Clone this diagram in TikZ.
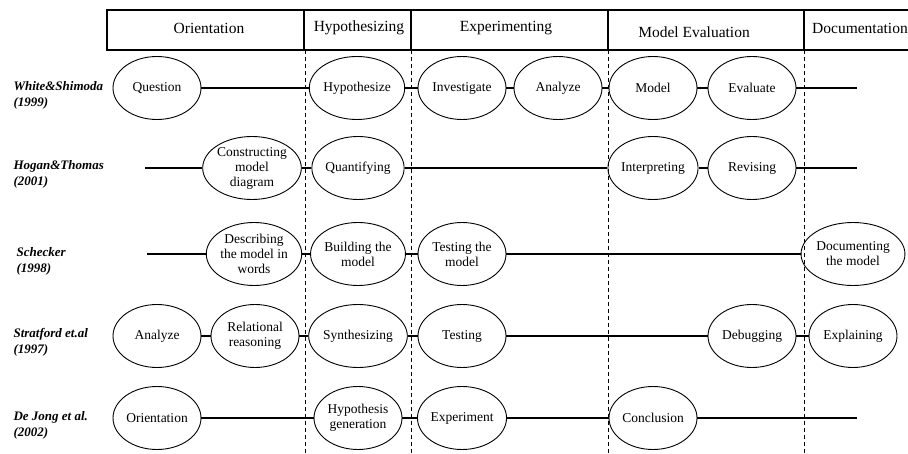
\documentclass[tikz,border=0pt]{standalone}
\usepackage{fontspec}
\setmainfont{Liberation Serif}
\usetikzlibrary{shapes,positioning}

\begin{document}
\begin{tikzpicture}[x=1pt,y=-1pt,
	oval/.style={ellipse,draw,line width=0.9pt,minimum width=88pt,minimum height=63pt,inner sep=0pt,align=center,font=\fontsize{13.5}{15}\selectfont},
	phase/.style={font=\fontsize{15.5}{17}\selectfont},
	study/.style={anchor=west,align=left,font=\fontsize{13}{16}\selectfont\bfseries\itshape},
	link/.style={line width=1.1pt},
	sep/.style={dash pattern=on 4pt off 3pt,line width=0.8pt}]
\useasboundingbox (0,0) rectangle (908,454);

% phases
\draw[line width=1.1pt] (912,10) -- (107,10) -- (107,50) -- (912,50);
\foreach \x in {304,411,608,804}
	\draw[line width=1.1pt] (\x,10) -- (\x,50);
\foreach \x in {305,411,608,804}
	\draw[sep] (\x,50) -- (\x,454);

\node[phase] at (209,28) (orient) {Orientation};
\node[phase] at (359,28) (hypo) {Hypothesizing};
\node[phase] at (506,28) (exper) {Experimenting};
\node[phase] at (694,32) (modev) {Model Evaluation};
\node[phase] at (860,28) (docu) {Documentation};

% studies
\node[study] at (10,95) (white) {White\&Shimoda\\(1999)};
\node[study] at (10,174) (hogan) {Hogan\&Thomas\\(2001)};
\node[study] at (13,261) (schecker) {Schecker\\(1998)};
\node[study] at (10,342) (stratford) {Stratford et.al\\(1997)};
\node[study] at (10,425) (dejong) {De Jong et al.\\(2002)};

% White & Shimoda
\node[oval] at (157,88) (question) {Question};
\node[oval] at (357,88) (hypothesize) {Hypothesize};
\node[oval] at (462,88) (investigate) {Investigate};
\node[oval] at (558,88) (analyze) {Analyze};
\node[oval] at (653,88) (model) {Model};
\node[oval] at (752,88) (evaluate) {Evaluate};
\coordinate (e1) at (857,88);
\draw[link] (question) -- (hypothesize) -- (investigate) -- (analyze) -- (model) -- (evaluate) -- (e1);

% Hogan & Thomas
\coordinate (s2) at (145,168);
\node[oval] at (252,168) (constructing) {Constructing\\model\\diagram};
\node[oval] at (358,168) (quantifying) {Quantifying};
\node[oval] at (653,168) (interpreting) {Interpreting};
\node[oval] at (752,168) (revising) {Revising};
\coordinate (e2) at (857,168);
\draw[link] (s2) -- (constructing) -- (quantifying) -- (interpreting) -- (revising) -- (e2);

% Schecker
\coordinate (s3) at (147,254);
\node[oval] at (254,254) (describing) {Describing\\the model in\\words};
\node[oval] at (358,254) (building) {Building the\\model};
\node[oval] at (462,254) (testmodel) {Testing the\\model};
\node[oval] at (853,254) (documenting) {Documenting\\the model};
\draw[link] (s3) -- (describing) -- (building) -- (testmodel) -- (documenting);

% Stratford et al.
\node[oval] at (157,336) (analyzeb) {Analyze};
\node[oval] at (255,336) (relational) {Relational\\reasoning};
\node[oval] at (358,336) (synthesizing) {Synthesizing};
\node[oval] at (462,336) (testing) {Testing};
\node[oval] at (752,336) (debugging) {Debugging};
\node[oval] at (853,336) (explaining) {Explaining};
\draw[link] (analyzeb) -- (relational) -- (synthesizing) -- (testing) -- (debugging) -- (explaining);

% De Jong et al.
\node[oval] at (157,418) (orientation) {Orientation};
\node[oval] at (358,418) (hypgen) {Hypothesis\\generation};
\node[oval] at (462,418) (experiment) {Experiment};
\node[oval] at (653,418) (conclusion) {Conclusion};
\coordinate (e5) at (857,418);
\draw[link] (orientation) -- (hypgen) -- (experiment) -- (conclusion) -- (e5);
\end{tikzpicture}
\end{document}
